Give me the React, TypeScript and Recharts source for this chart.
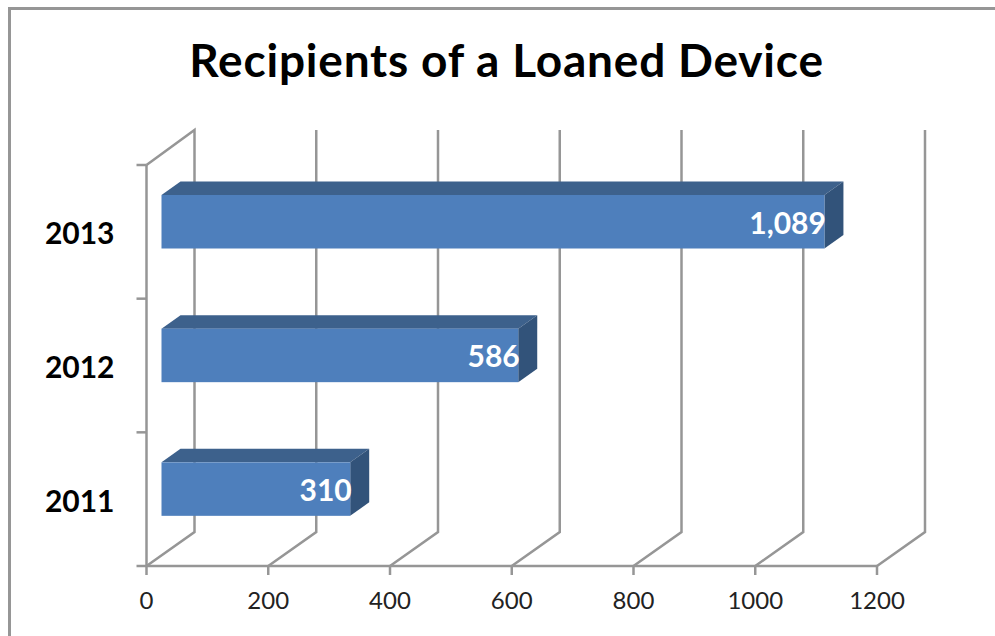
import React from "react";
import { Bar, BarChart, CartesianGrid, LabelList, XAxis, YAxis } from "recharts";

const years = ["2013", "2012", "2011"];
const recipients = [1089, 586, 310];
const xTicks = [0, 200, 400, 600, 800, 1000, 1200];

const data = years.map((year, i) => ({ year, recipients: recipients[i] }));

const FONT = "Lato, sans-serif";
const LINE = "#969696";
// depth of the back wall and of the bars, as in the excel 3d chart
const WALL_DX = 48;
const WALL_DY = -34;
const BAR_X = 15;
const BAR_Y = -10;
const BAR_DX = 19;
const BAR_DY = -13.5;

const WallLine = ({ x1, y1, y2, index }: any) => (
  <polyline
    points={
      `${x1},${y2} ${x1 + WALL_DX},${y2 + WALL_DY} ${x1 + WALL_DX},${y1 + WALL_DY - 1}` +
      (index === 0 ? ` ${x1},${y1}` : "")
    }
    fill="none"
    stroke={LINE}
    strokeWidth={2.5}
  />
);

// excel puts the category tick marks between the bands, not on their centres
const YearTick = ({ x, y, payload, index }: any) => {
  const half = payload.offset;
  return (
    <g>
      <line x1={x - 10} x2={x} y1={y - half} y2={y - half} stroke={LINE} strokeWidth={2.5} />
      {index === years.length - 1 && (
        <line x1={x - 10} x2={x} y1={y + half} y2={y + half} stroke={LINE} strokeWidth={2.5} />
      )}
      <text x={x - 32} y={y + 12.5} textAnchor="end" fill="#000" fontFamily={FONT} fontWeight={700} fontSize={30}>
        {payload.value}
      </text>
    </g>
  );
};

const Bar3D = ({ x, y, width, height }: any) => {
  const l = x + BAR_X;
  const t = y + BAR_Y;
  const r = l + width;
  const b = t + height;
  return (
    <g>
      <polygon
        points={`${l},${t} ${l + BAR_DX},${t + BAR_DY} ${r + BAR_DX},${t + BAR_DY} ${r},${t}`}
        fill="#3D618C"
      />
      <polygon
        points={`${r},${t} ${r + BAR_DX},${t + BAR_DY} ${r + BAR_DX},${b + BAR_DY} ${r},${b}`}
        fill="#32537A"
      />
      <rect x={l} y={t} width={width} height={height} fill="#4E7FBC" />
    </g>
  );
};

const BarValue = ({ x, y, width, height, value }: any) => (
  <text
    x={x + BAR_X + width + 1.5}
    y={y + BAR_Y + height / 2 + 12}
    textAnchor="end"
    fill="#fff"
    fontFamily={FONT}
    fontWeight={700}
    fontSize={30}
  >
    {Number(value).toLocaleString("en-US")}
  </text>
);

export default function App() {
  return (
    <div style={{ position: "absolute", left: 0, top: 0, width: 995, height: 636, background: "#fff", overflow: "hidden" }}>
      <div style={{ position: "absolute", left: 8, top: 7, width: 1000, height: 700, borderLeft: `3px solid ${LINE}`, borderTop: `3px solid ${LINE}` }} />
      <div
        style={{
          position: "absolute",
          left: 0,
          top: 32,
          width: 1013,
          textAlign: "center",
          fontFamily: FONT,
          fontWeight: 700,
          fontSize: 46,
          letterSpacing: 0.8,
          lineHeight: "56px",
          color: "#000",
        }}
      >
        Recipients of a Loaned Device
      </div>
      <BarChart
        width={995}
        height={636}
        data={data}
        layout="vertical"
        margin={{ left: 36.5, right: 118, top: 165, bottom: 0 }}
        style={{ position: "absolute", left: 0, top: 0 }}
      >
        <CartesianGrid horizontal={false} vertical={(props: any) => <WallLine key={props.index} {...props} />} />
        <XAxis
          type="number"
          domain={[0, 1200]}
          ticks={xTicks}
          interval={0}
          height={70}
          tickSize={9}
          tickMargin={17}
          tickLine={{ stroke: LINE, strokeWidth: 2.5 }}
          axisLine={{ stroke: LINE, strokeWidth: 2.5 }}
          tick={{ fill: "#222", fontFamily: FONT, fontSize: 24 }}
        />
        <YAxis
          type="category"
          dataKey="year"
          width={110}
          tickSize={0}
          tickMargin={0}
          tickLine={false}
          axisLine={{ stroke: LINE, strokeWidth: 2.5 }}
          tick={YearTick}
        />
        <Bar dataKey="recipients" barSize={53.5} shape={Bar3D} isAnimationActive={false}>
          <LabelList dataKey="recipients" content={BarValue} />
        </Bar>
      </BarChart>
    </div>
  );
}
